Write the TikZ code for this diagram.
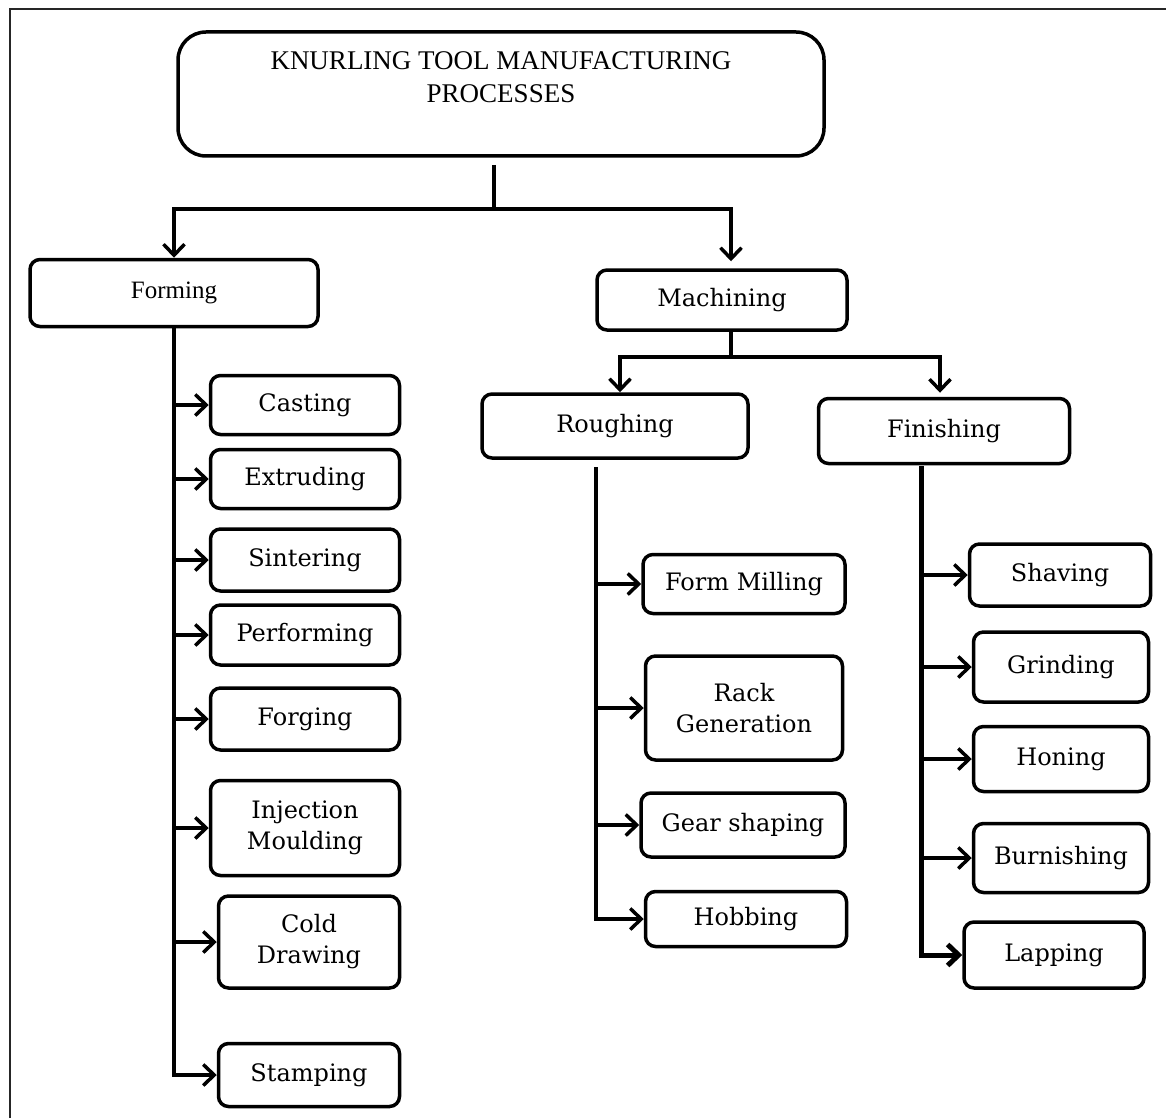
\documentclass[tikz,border=0pt]{standalone}
\usepackage{fontspec}
\setmainfont{Liberation Serif}
\newfontfamily\slab{DejaVu Serif}
\usetikzlibrary{arrows.meta}

\tikzstyle{b1} = [draw, line width=3.5pt, rounded corners=10pt, align=center, inner sep=0pt, font=\slab\fontsize{24}{31}\selectfont]
\tikzstyle{b2} = [b1, font=\fontsize{25}{33}\selectfont]
\tikzstyle{c1} = [line width=3.5pt, -{Straight Barb[length=11pt,width=21pt]}]

\begin{document}
\begin{tikzpicture}[x=1pt, y=-1pt]
    \useasboundingbox (0,0) rectangle (1166,1118);
    \draw[line width=1.8pt, black!85] (10,1118) -- (10,9) -- (1166,9);

    \node[b2, rounded corners=28pt, minimum width=646, minimum height=124, font=\fontsize{27}{33}\selectfont] (T) at (501,94) {KNURLING TOOL MANUFACTURING\\PROCESSES\\~};
    \node[b2, minimum width=288, minimum height=67] (F) at (174,293) {Forming};
    \node[b1, minimum width=250, minimum height=60] (M) at (722,300) {Machining};
    \node[b1, minimum width=266, minimum height=64] (R) at (615,426) {Roughing};
    \node[b1, minimum width=251, minimum height=65] (S) at (944,431) {Finishing};

    \node[b1, minimum width=189, minimum height=59] (F1) at (305,405) {Casting};
    \node[b1, minimum width=189, minimum height=59] (F2) at (305,479) {Extruding};
    \node[b1, minimum width=189, minimum height=62] (F3) at (305,560) {Sintering};
    \node[b1, minimum width=189, minimum height=60] (F4) at (305,635) {Performing};
    \node[b1, minimum width=189, minimum height=62] (F5) at (305,719) {Forging};
    \node[b1, minimum width=189, minimum height=95] (F6) at (305,828) {Injection\\Moulding};
    \node[b1, minimum width=181, minimum height=92] (F7) at (309,942) {Cold\\Drawing};
    \node[b1, minimum width=181, minimum height=63] (F8) at (309,1075) {Stamping};

    \node[b1, minimum width=202, minimum height=59] (R1) at (744,584) {Form Milling};
    \node[b1, minimum width=197, minimum height=104] (R2) at (744,708) {Rack\\Generation};
    \node[b1, minimum width=204, minimum height=64] (R3) at (743,825) {Gear shaping};
    \node[b1, minimum width=201, minimum height=55] (R4) at (746,919) {Hobbing};

    \node[b1, minimum width=181, minimum height=62] (S1) at (1060,575) {Shaving};
    \node[b1, minimum width=175, minimum height=70] (S2) at (1061,667) {Grinding};
    \node[b1, minimum width=175, minimum height=65] (S3) at (1061,759) {Honing};
    \node[b1, minimum width=175, minimum height=69] (S4) at (1061,858) {Burnishing};
    \node[b1, minimum width=180, minimum height=66] (S5) at (1054,955) {Lapping};

    \coordinate (T0) at (494,165);
    \coordinate (T1) at (494,209);
    \coordinate (M0) at (731,357);
    \coordinate (R0) at (596,467);
    \coordinate (S0) at (921,466);

    \draw[line width=3.5pt] (T0) -- (T1);
    \draw[c1] (T1) -| (F.north);
    \draw[c1, shorten >=7pt] (T1) -| ([xshift=9pt]M.north);
    \draw[line width=3.5pt] (M.south -| M0) -- (M0);
    \draw[c1] (M0) -| ([xshift=5pt]R.north);
    \draw[c1, shorten >=4pt] (M0) -| ([xshift=-4pt]S.north);

    \foreach \i in {1,...,8}
        \draw[c1] (F.south) |- (F\i.west);
    \foreach \i in {1,...,4}
        \draw[c1] (R0) |- (R\i.west);
    \foreach \i in {1,...,4}
        \draw[c1] (S0) |- (S\i.west);
    \draw[c1, line width=5pt] (S0) |- (S5.west);
\end{tikzpicture}
\end{document}
